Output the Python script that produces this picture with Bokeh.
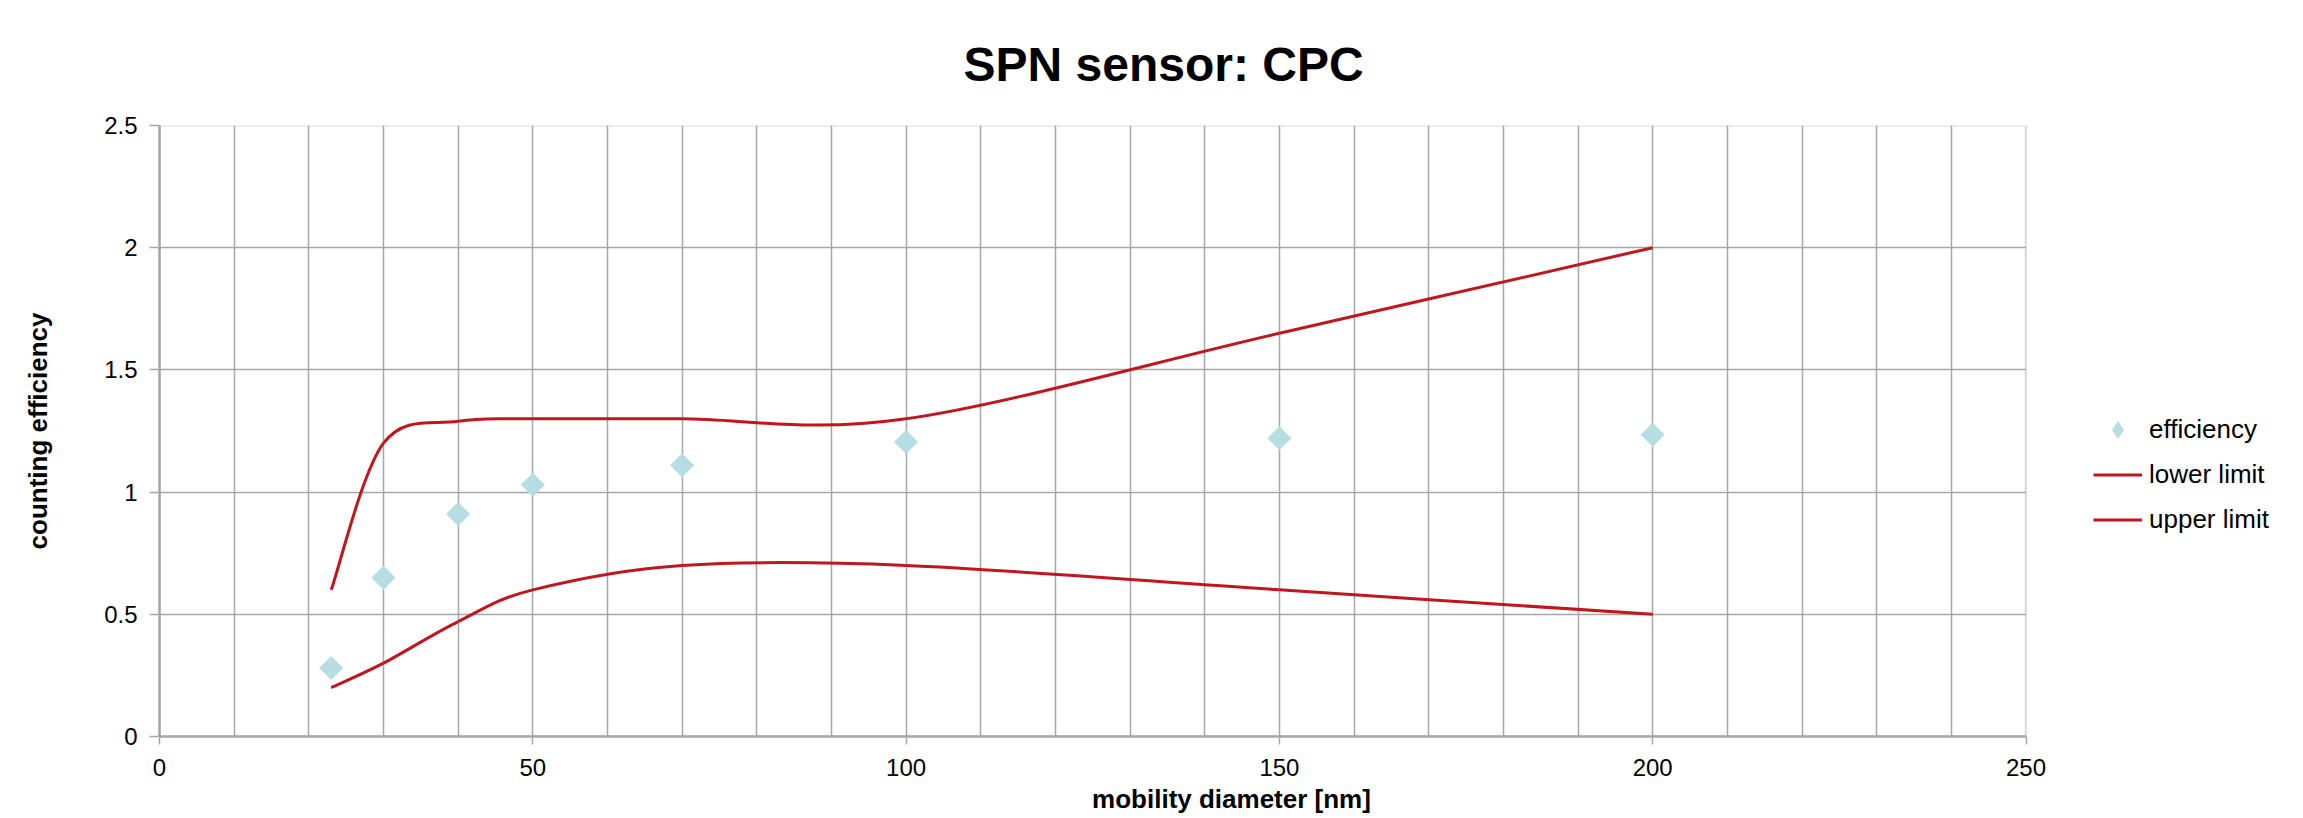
import numpy as np
from bokeh.plotting import figure
from bokeh.models import FixedTicker, Legend, LegendItem, Range1d, BoxAnnotation
from bokeh.embed import file_html
from bokeh.resources import INLINE

# ---------------- data ----------------
title_text = "SPN sensor: CPC"
x_label = "mobility diameter [nm]"
y_label = "counting efficiency"

diameters = [23, 30, 40, 50, 70, 100, 150, 200]
efficiency = [0.28, 0.65, 0.91, 1.03, 1.11, 1.205, 1.22, 1.235]
lower_limit = [0.20, 0.30, 0.47, 0.60, 0.70, 0.70, 0.60, 0.50]
upper_limit = [0.60, 1.20, 1.29, 1.30, 1.30, 1.30, 1.65, 2.00]

series_names = ["efficiency", "lower limit", "upper limit"]
x_min, x_max = 0, 250
y_min, y_max = 0, 2.5
x_ticks = [0, 50, 100, 150, 200, 250]
x_grid_ticks = list(range(0, 251, 10))
y_ticks = [0, 0.5, 1, 1.5, 2, 2.5]
y_tick_labels = ["0", "0.5", "1", "1.5", "2", "2.5"]

FONT = "Liberation Sans"
RED = "#c0161e"
TEAL = "#b5dde2"
GRID = "#a6a6a6"

# ---------------- layout (pixels) ----------------
W, H = 2303, 818
BORDER_LEFT, BORDER_TOP, BORDER_BOTTOM = 159, 123, 82
AXIS_RIGHT_PX = 1866.5          # pixel distance from frame left to x_max
frame_w = W - BORDER_LEFT
x_end = x_max * frame_w / AXIS_RIGHT_PX   # frame continues right to hold the legend


def smooth_segments(xs, ys):
    """Cubic Bezier control points (Catmull-Rom style) for a smoothed line."""
    n = len(xs)
    seg = dict(x0=[], y0=[], x1=[], y1=[], cx0=[], cy0=[], cx1=[], cy1=[])
    for i in range(n - 1):
        im, ip, ipp = max(i - 1, 0), i + 1, min(i + 2, n - 1)
        seg["x0"].append(xs[i]); seg["y0"].append(ys[i])
        seg["x1"].append(xs[ip]); seg["y1"].append(ys[ip])
        seg["cx0"].append(xs[i] + (xs[ip] - xs[im]) / 6.0)
        seg["cy0"].append(ys[i] + (ys[ip] - ys[im]) / 6.0)
        seg["cx1"].append(xs[ip] - (xs[ipp] - xs[i]) / 6.0)
        seg["cy1"].append(ys[ip] - (ys[ipp] - ys[i]) / 6.0)
    return seg


p = figure(
    width=W, height=H,
    output_backend="svg", toolbar_location=None,
    x_range=Range1d(x_min, x_end), y_range=Range1d(y_min, y_max),
    min_border_left=BORDER_LEFT, min_border_right=0,
    min_border_top=BORDER_TOP, min_border_bottom=BORDER_BOTTOM,
    background_fill_color="white", border_fill_color="white",
)

# title
p.title.text = title_text
p.title.text_font = FONT
p.title.text_font_size = "48px"
p.title.text_font_style = "bold"
p.title.text_color = "black"
p.title.align = "left"
p.title.offset = 804
p.title.standoff = 70

p.outline_line_color = None

# grids
p.xgrid.ticker = FixedTicker(ticks=x_grid_ticks)
p.ygrid.ticker = FixedTicker(ticks=y_ticks)
for g in (p.xgrid, p.ygrid):
    g.grid_line_color = GRID
    g.grid_line_width = 1.5

# axes
p.xaxis.ticker = FixedTicker(ticks=x_ticks)
p.xaxis.bounds = (x_min, x_max)
p.yaxis.ticker = FixedTicker(ticks=y_ticks)
p.yaxis.major_label_overrides = {t: l for t, l in zip(y_ticks, y_tick_labels)}
p.xaxis.axis_label = x_label
p.yaxis.axis_label = y_label
for ax in (p.xaxis, p.yaxis):
    ax.axis_line_color = GRID
    ax.axis_line_width = 2.5
    ax.major_tick_line_color = GRID
    ax.major_tick_line_width = 1.5
    ax.major_tick_in = 0
    ax.minor_tick_line_color = None
    ax.major_label_text_font = FONT
    ax.major_label_text_font_size = "24px"
    ax.major_label_text_color = "black"
    ax.axis_label_text_font = FONT
    ax.axis_label_text_font_size = "26px"
    ax.axis_label_text_font_style = "bold"
    ax.axis_label_text_color = "black"
p.xaxis.major_tick_out = 8
p.xaxis.major_label_standoff = 14
p.xaxis.axis_label_standoff = 5
p.yaxis.major_tick_out = 10
p.yaxis.major_label_standoff = 12
p.yaxis.axis_label_standoff = 48

# blank out the area right of the plot box (legend area), then draw the plot box
p.add_layout(BoxAnnotation(left=x_max, fill_color="white", fill_alpha=1.0, line_color=None))
p.add_layout(BoxAnnotation(left=x_min, right=x_max, bottom=y_min, top=y_max,
                           fill_color=None, line_color=GRID, line_width=2.5))

# series
lo = smooth_segments(diameters, lower_limit)
hi = smooth_segments(diameters, upper_limit)
r_lo = p.bezier(line_color=RED, line_width=3, **lo)
r_hi = p.bezier(line_color=RED, line_width=3, **hi)
r_eff = p.scatter(diameters, efficiency, marker="square", size=17, angle=np.pi / 4,
                  fill_color=TEAL, line_color=None)
# legend swatch (diamond) for the efficiency markers; zero size on the plot itself
r_eff_key = p.scatter(diameters, efficiency, marker="diamond", size=0,
                      fill_color=TEAL, line_color=None)

legend = Legend(
    items=[
        LegendItem(label=series_names[0], renderers=[r_eff_key]),
        LegendItem(label=series_names[1], renderers=[r_lo]),
        LegendItem(label=series_names[2], renderers=[r_hi]),
    ],
    location=(1934, 194),
    orientation="vertical",
    padding=0, margin=0, spacing=0,
    glyph_width=49, glyph_height=45, label_height=45,
    label_standoff=7,
    label_text_font=FONT, label_text_font_size="26px", label_text_color="black",
    border_line_alpha=0, background_fill_alpha=0,
)
p.add_layout(legend, "center")

open("out.html", "w").write(file_html(p, INLINE))
